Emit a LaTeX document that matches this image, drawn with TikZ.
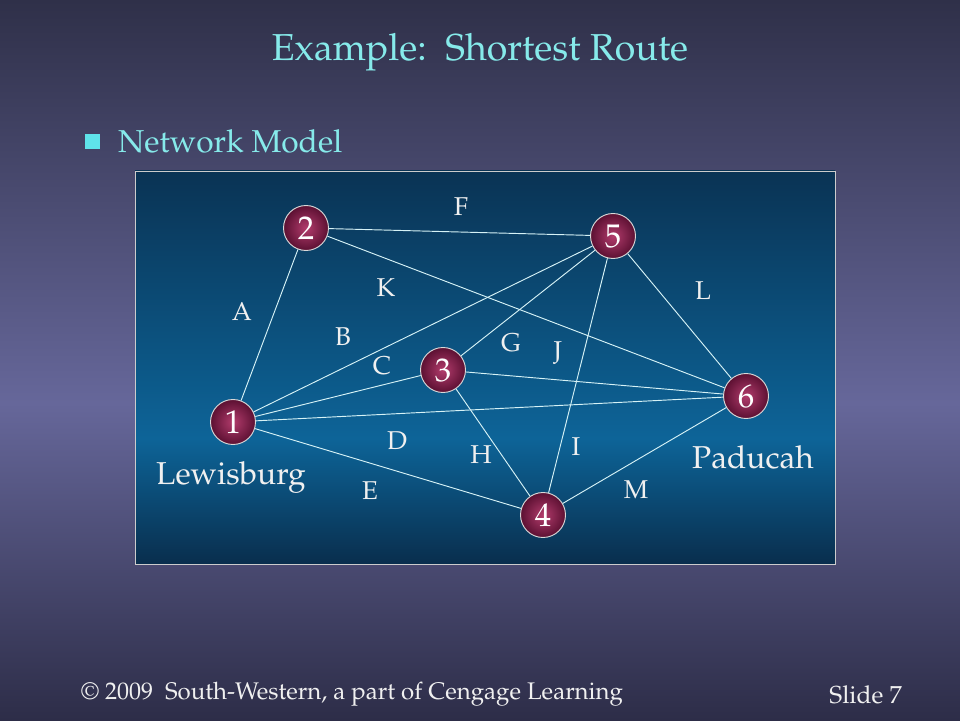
\documentclass[tikz,border=0pt]{standalone}
\usepackage[T1]{fontenc}
\usepackage{mathpazo}
\usepackage{tikz}
\usetikzlibrary{shapes.geometric, positioning, calc}
\usepackage{xcolor}

\definecolor{slidetop}{HTML}{2F3049}
\definecolor{slidemid}{HTML}{66679A}
\definecolor{slidebot}{HTML}{2D2D48}
\definecolor{boxtop}{HTML}{0A3354}
\definecolor{boxmid}{HTML}{0D6498}
\definecolor{boxbot}{HTML}{092E4D}
\definecolor{titlecyan}{HTML}{86EAEA}
\definecolor{bulletcyan}{HTML}{5FE3EA}
\definecolor{cityin}{HTML}{B23C6C}
\definecolor{cityout}{HTML}{5C1032}
\definecolor{roadline}{HTML}{D6F2F6}

\pgfdeclareverticalshading{slidebg}{100bp}{color(0bp)=(slidebot); color(25bp)=(slidebot);
  color(47bp)=(slidemid); color(75bp)=(slidetop); color(100bp)=(slidetop)}
\pgfdeclareverticalshading{panelbg}{100bp}{color(0bp)=(boxbot); color(25bp)=(boxbot);
  color(41bp)=(boxmid); color(75bp)=(boxtop); color(100bp)=(boxtop)}

\begin{document}
\begin{tikzpicture}[
    x=0.03cm, y=0.03cm,
    city/.style={
      circle, draw=white!85!black, line width=0.8pt,
      shading=radial, inner color=cityin, outer color=cityout,
      minimum size=45*0.03cm, inner sep=0pt,
      text=white, font=\fontsize{28}{28}\selectfont
    },
    road/.style={roadline, line width=0.8pt},
    lbl/.style={text=white!94!black, font=\fontsize{22}{22}\selectfont, inner sep=1pt},
    town/.style={text=white!94!black, font=\fontsize{27}{27}\selectfont, inner sep=1pt}
  ]

    % --- Background ---
    \useasboundingbox (0,0) rectangle (960,720);
    \shade[shading=slidebg] (0,0) rectangle (960,720);

    % --- Title and bullet ---
    \node[text=titlecyan, font=\fontsize{32}{32}\selectfont] (title) at (480,668)
      {Example:\ \ Shortest Route};
    \node[fill=bulletcyan, minimum size=15*0.03cm, inner sep=0pt] (bullet) at (92,578) {};
    \node[text=titlecyan, font=\fontsize{27}{27}\selectfont, anchor=west] (sub) at (114,579)
      {Network Model};

    % --- Network panel ---
    \shade[shading=panelbg] (135,156) rectangle (835,549);
    \draw[white!80!black, line width=0.5pt] (135,156) rectangle (835,549);

    % --- Nodes ---
    \node[city] (n1) at (233,298) {1};
    \node[city] (n2) at (306,492) {2};
    \node[city] (n3) at (443,350) {3};
    \node[city] (n4) at (543,205) {4};
    \node[city] (n5) at (613,484) {5};
    \node[city] (n6) at (746,324) {6};

    % --- Roads ---
    \draw[road] (n1) -- (n2);
    \draw[road] (n1) -- (n5);
    \draw[road] (n1) -- (n3);
    \draw[road] (n1) -- (n6);
    \draw[road] (n1) -- (n4);
    \draw[road] (n2) -- (n5);
    \draw[road] (n2) -- (n6);
    \draw[road] (n3) -- (n5);
    \draw[road] (n3) -- (n6);
    \draw[road] (n3) -- (n4);
    \draw[road] (n4) -- (n5);
    \draw[road] (n4) -- (n6);
    \draw[road] (n5) -- (n6);

    % --- Road labels ---
    \node[lbl] (la) at (242,408) {A};
    \node[lbl] (lb) at (343,383) {B};
    \node[lbl] (lc) at (382,354) {C};
    \node[lbl] (ld) at (397,279) {D};
    \node[lbl] (le) at (370,229) {E};
    \node[lbl] (lf) at (461,513) {F};
    \node[lbl] (lg) at (511,377) {G};
    \node[lbl] (lh) at (481,265) {H};
    \node[lbl] (li) at (576,273) {I};
    \node[lbl] (lj) at (558,367) {J};
    \node[lbl] (lk) at (386,432) {K};
    \node[lbl] (ll) at (703,429) {L};
    \node[lbl] (lm) at (636,230) {M};

    % --- Towns ---
    \node[town] (lewis) at (231,242) {Lewisburg};
    \node[town] (paduc) at (753,263) {Paducah};

    % --- Footer ---
    \node[text=white!94!black, font=\fontsize{20.5}{20.5}\selectfont, anchor=west] (copy) at (77,26)
      {\textcopyright\ 2009\ \ South-Western, a part of Cengage Learning};
    \node[text=white!94!black, font=\fontsize{21}{21}\selectfont, anchor=east] (slide) at (906,25)
      {Slide 7};

  \end{tikzpicture}
\end{document}
